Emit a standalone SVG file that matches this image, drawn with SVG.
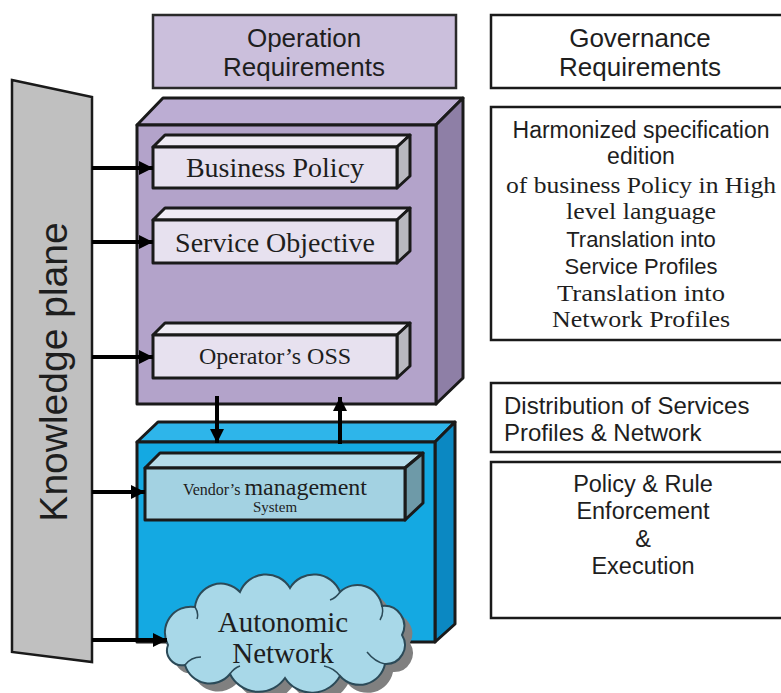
<svg xmlns="http://www.w3.org/2000/svg" width="781" height="693" viewBox="0 0 781 693">
<defs>
<style>
.sans{font-family:"Liberation Sans",Arial,sans-serif;fill:#1e1e1e}
.serif{font-family:"Liberation Serif","Times New Roman",serif;fill:#1e1e1e}
.bx{stroke:#1a1a1a;stroke-width:3;stroke-linejoin:round}
.tb{fill:#fff;stroke:#1a1a1a;stroke-width:2.5}
.conn{stroke:#000;stroke-width:4;fill:none}
.pf{fill:#b3a3ca}.pt{fill:#bcadd3}.ps{fill:#8e7fa6}
.if{fill:#e7e1ef}.it{fill:#efebf4}.is{fill:#b8b8bf}
.bf{fill:#14a9e2}.bt{fill:#2eb5ea}.bs{fill:#0b88c2}
.vf{fill:#a3d2e2}.vt{fill:#b6dcea}.vs{fill:#6e9aa8}
</style>
<marker id="ah" viewBox="0 0 10 10" refX="10" refY="5" markerWidth="16" markerHeight="14" markerUnits="userSpaceOnUse" orient="auto">
<path d="M0,0 L10,5 L0,10 z" fill="#000"/>
</marker>
</defs>
<rect width="781" height="693" fill="#fff"/>

<g id="knowledge-plane">
<polygon points="12,80 92,97 92,662 12,652" fill="#c0c0c0" stroke="#1a1a1a" stroke-width="2.5"/>
<text class="sans" transform="translate(67,372) rotate(-90)" text-anchor="middle" font-size="39">Knowledge plane</text>
</g>

<g id="operation-requirements">
<rect x="153" y="15" width="303" height="73" fill="#cbbfdc" stroke="#2a2a2a" stroke-width="2.5"/>
<text class="sans" x="304" y="47" text-anchor="middle" font-size="26">Operation</text>
<text class="sans" x="304" y="76" text-anchor="middle" font-size="26">Requirements</text>
</g>

<g id="governance-requirements">
<rect class="tb" x="491" y="15" width="300" height="73"/>
<text class="sans" x="640" y="47" text-anchor="middle" font-size="26">Governance</text>
<text class="sans" x="640" y="76" text-anchor="middle" font-size="26">Requirements</text>
</g>

<g id="operator-layer">
<polygon class="bx pt" points="137,125 163,98 463,98 436,125"/>
<polygon class="bx ps" points="436,125 463,98 463,378 436,404"/>
<rect class="bx pf" x="137" y="125" width="299" height="279"/>
</g>

<g id="business-policy">
<polygon class="bx it" points="153,147 165,135 410,135 397,147"/>
<polygon class="bx is" points="397,147 410,135 410,176 397,188"/>
<rect class="bx if" x="153" y="147" width="244" height="41"/>
<text class="serif" x="275" y="177" text-anchor="middle" font-size="28">Business Policy</text>
</g>

<g id="service-objective">
<polygon class="bx it" points="153,220 165,208 410,208 397,220"/>
<polygon class="bx is" points="397,220 410,208 410,251 397,263"/>
<rect class="bx if" x="153" y="220" width="244" height="43"/>
<text class="serif" x="275" y="252" text-anchor="middle" font-size="28">Service Objective</text>
</g>

<g id="operators-oss">
<polygon class="bx it" points="153,335 165,323 410,323 397,335"/>
<polygon class="bx is" points="397,335 410,323 410,366 397,378"/>
<rect class="bx if" x="153" y="335" width="244" height="43"/>
<text class="serif" x="275" y="364" text-anchor="middle" font-size="24">Operator’s OSS</text>
</g>

<g id="vendor-layer">
<polygon class="bx bt" points="137,442 158,422 455,422 435,442"/>
<polygon class="bx bs" points="435,442 455,422 455,624 435,642"/>
<rect class="bx bf" x="137" y="442" width="298" height="200"/>
</g>

<g id="vendor-management">
<polygon class="bx vt" points="145,468 160,453 423,453 405,468"/>
<polygon class="bx vs" points="405,468 423,453 423,503 405,520"/>
<rect class="bx vf" x="145" y="468" width="260" height="52"/>
<text class="serif" x="275" y="495" text-anchor="middle"><tspan font-size="16">Vendor’s </tspan><tspan font-size="24">management</tspan></text>
<text class="serif" x="275" y="512" text-anchor="middle" font-size="15">System</text>
</g>

<g id="autonomic-network">
<path transform="translate(8,8)" fill="#808080" d="M168,645 A26,26 0 0 1 195,607 A26,26 0 0 1 240,592 A28,28 0 0 1 290,588 A28,28 0 0 1 340,592 A25,25 0 0 1 382,606 A20,20 0 0 1 402,635 A19,19 0 0 1 385,664 A26,26 0 0 1 340,676 A32,32 0 0 1 285,678 A32,32 0 0 1 230,674 A26,26 0 0 1 185,665 A15,15 0 0 1 168,645 Z"/>
<path fill="#a8d8e8" stroke="#2b4a58" stroke-width="2" d="M168,645 A26,26 0 0 1 195,607 A26,26 0 0 1 240,592 A28,28 0 0 1 290,588 A28,28 0 0 1 340,592 A25,25 0 0 1 382,606 A20,20 0 0 1 402,635 A19,19 0 0 1 385,664 A26,26 0 0 1 340,676 A32,32 0 0 1 285,678 A32,32 0 0 1 230,674 A26,26 0 0 1 185,665 A15,15 0 0 1 168,645 Z"/>
<path fill="none" stroke="#2b4a58" stroke-width="1.5" d="M185,665 q6,-8 16,-8 M230,674 q4,-6 10,-8 M340,676 q-6,-8 -16,-10 M385,664 q-10,-2 -18,-12 M382,606 q2,8 -2,14 M340,592 q-4,6 -10,8 M195,607 q4,6 2,12"/>
<text class="serif" x="283" y="632" text-anchor="middle" font-size="29">Autonomic</text>
<text class="serif" x="283" y="663" text-anchor="middle" font-size="29">Network</text>
</g>

<g id="harmonized-specification">
<rect class="tb" x="491" y="107" width="300" height="233"/>
<text class="sans" x="641" y="138" text-anchor="middle" font-size="23">Harmonized specification</text>
<text class="sans" x="641" y="164" text-anchor="middle" font-size="23">edition</text>
<text class="serif" x="641" y="193" text-anchor="middle" font-size="24" textLength="270" lengthAdjust="spacingAndGlyphs">of business Policy in High</text>
<text class="serif" x="641" y="219" text-anchor="middle" font-size="24" textLength="150" lengthAdjust="spacingAndGlyphs">level language</text>
<text class="sans" x="641" y="247" text-anchor="middle" font-size="22">Translation into</text>
<text class="sans" x="641" y="274" text-anchor="middle" font-size="22">Service Profiles</text>
<text class="serif" x="641" y="301" text-anchor="middle" font-size="24" textLength="168" lengthAdjust="spacingAndGlyphs">Translation into</text>
<text class="serif" x="641" y="327" text-anchor="middle" font-size="24" textLength="178" lengthAdjust="spacingAndGlyphs">Network Profiles</text>
</g>

<g id="distribution">
<rect class="tb" x="491" y="383" width="300" height="69"/>
<text class="sans" x="504" y="414" font-size="24">Distribution of Services</text>
<text class="sans" x="504" y="441" font-size="24">Profiles &amp; Network</text>
</g>

<g id="policy-enforcement">
<rect class="tb" x="491" y="462" width="300" height="156"/>
<text class="sans" x="643" y="492" text-anchor="middle" font-size="23.5">Policy &amp; Rule</text>
<text class="sans" x="643" y="519" text-anchor="middle" font-size="23.5">Enforcement</text>
<text class="sans" x="643" y="547" text-anchor="middle" font-size="23.5">&amp;</text>
<text class="sans" x="643" y="574" text-anchor="middle" font-size="23.5">Execution</text>
</g>

<g id="connectors">
<line class="conn" x1="92" y1="168" x2="153" y2="168" marker-end="url(#ah)"/>
<line class="conn" x1="92" y1="242" x2="153" y2="242" marker-end="url(#ah)"/>
<line class="conn" x1="92" y1="357" x2="153" y2="357" marker-end="url(#ah)"/>
<line class="conn" x1="92" y1="492" x2="145" y2="492" marker-end="url(#ah)"/>
<line class="conn" x1="92" y1="640" x2="167" y2="640" marker-end="url(#ah)"/>
<line class="conn" x1="217" y1="396" x2="217" y2="443" marker-end="url(#ah)"/>
<line class="conn" x1="340" y1="444" x2="340" y2="397" marker-end="url(#ah)"/>
</g>
</svg>
